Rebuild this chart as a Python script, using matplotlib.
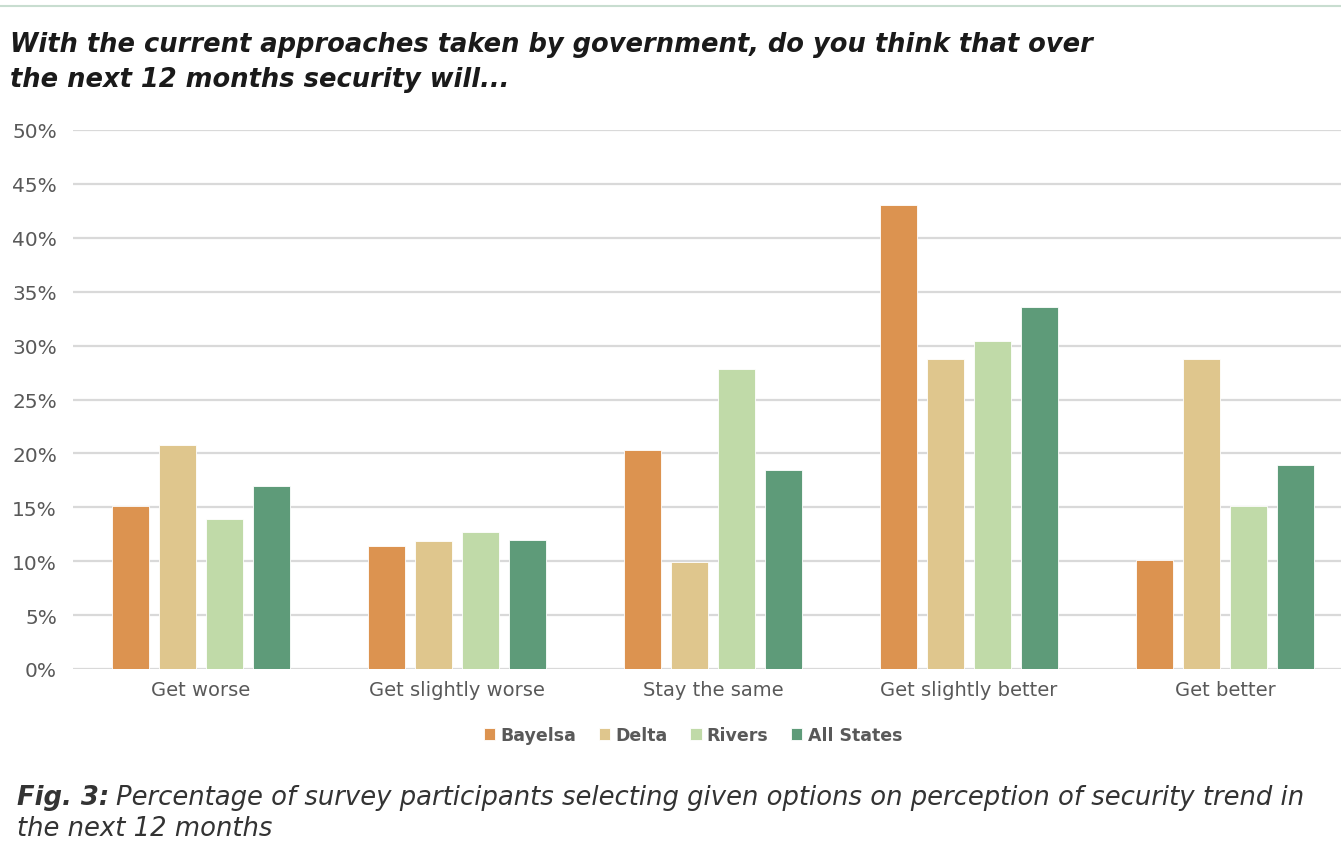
import matplotlib.pyplot as plt
import numpy as np

categories = ['Get worse', 'Get slightly worse', 'Stay the same', 'Get slightly better', 'Get better']
states = ['Bayelsa', 'Delta', 'Rivers', 'All States']
bayelsa = [15.1, 11.4, 20.3, 43.0, 10.1]
delta = [20.8, 11.9, 9.9, 28.8, 28.8]
rivers = [13.9, 12.7, 27.8, 30.4, 15.1]
all_states = [17.0, 12.0, 18.5, 33.6, 18.9]
colors = ['#DC9350', '#DFC68D', '#C0DAA8', '#5E9B79']

plt.rcParams['font.family'] = ['DejaVu Sans']

fig = plt.figure(figsize=(13.41, 8.54), dpi=100)
W, H = 1341, 854
ax = fig.add_axes([73 / W, 1 - 670 / H, (W - 73) / W, (670 - 131) / H])

x = np.arange(len(categories))
width = 0.145
step = 0.184
series = [bayelsa, delta, rivers, all_states]
for i, (vals, name) in enumerate(zip(series, states)):
    ax.bar(x + (i - 1.5) * step, vals, width, color=colors[i], label=name,
           edgecolor='white', linewidth=0.6, zorder=3)

ax.set_ylim(0, 50)
ax.set_xlim(-0.5, 4.453)
ax.set_yticks(range(0, 51, 5))
ax.set_yticklabels([f'{v}%' for v in range(0, 51, 5)])
ax.set_xticks(x)
ax.set_xticklabels(categories)
ax.yaxis.grid(True, color='#D9D9D9', linewidth=1.6, zorder=0)
ax.tick_params(length=0, labelsize=14, labelcolor='#595959', pad=8)
ax.tick_params(axis='y', labelsize=14.5, pad=11.5)
for s in ax.spines.values():
    s.set_visible(False)

leg = ax.legend(loc='center', bbox_to_anchor=(693 / W, 1 - 736 / H), bbox_transform=fig.transFigure,
                ncol=4, frameon=False, handlelength=0.65, handleheight=0.65, handletextpad=0.3,
                columnspacing=1.3, prop={'size': 12.5, 'weight': 'bold'})
for t in leg.get_texts():
    t.set_color('#595959')

# top rule
fig.add_artist(plt.Line2D([0, 1], [1 - 7 / H, 1 - 7 / H], color='#C8DDD0', linewidth=1.5))

fig.text(10 / W, 1 - 45 / H, 'With the current approaches taken by government, do you think that over',
         fontsize=18.5, fontweight='bold', style='italic', color='#1a1a1a', va='center')
fig.text(10 / W, 1 - 80 / H, 'the next 12 months security will...',
         fontsize=18.5, fontweight='bold', style='italic', color='#1a1a1a', va='center')

fig.canvas.draw()
r = fig.canvas.get_renderer()
fig_lab = fig.text(17 / W, 1 - 798 / H, 'Fig. 3:', fontsize=18.6, fontweight='bold', style='italic',
                   color='#333333', va='center')
bb = fig_lab.get_window_extent(r)
fig.text((bb.x1 + 7) / W, 1 - 798 / H,
         'Percentage of survey participants selecting given options on perception of security trend in',
         fontsize=18.6, style='italic', color='#333333', va='center')
fig.text(17 / W, 1 - 829 / H, 'the next 12 months', fontsize=18.6, style='italic',
         color='#333333', va='center')

fig.savefig('out.png', dpi=100)
